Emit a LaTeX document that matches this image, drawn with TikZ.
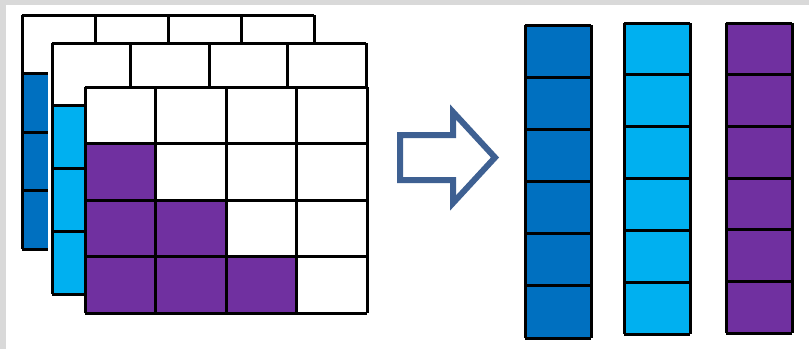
\documentclass[tikz,border=0pt]{standalone}
\definecolor{dblue}{RGB}{0,112,192}
\definecolor{lblue}{RGB}{0,176,240}
\definecolor{purp}{RGB}{112,48,160}
\definecolor{arrowc}{RGB}{62,96,146}
\definecolor{framec}{RGB}{217,217,217}
\newcommand\mygrid[6]{% x0,y0,cw,ch,ncols,nrows
  \foreach \i in {0,...,#5} \draw[gridline] ({#1+\i*#3},#2) -- ({#1+\i*#3},{#2+#6*#4});
  \foreach \j in {0,...,#6} \draw[gridline] (#1,{#2+\j*#4}) -- ({#1+#5*#3},{#2+\j*#4});
}
\begin{document}
\begin{tikzpicture}[x=1pt,y=-1pt,
  gridline/.style={draw=black,line width=3pt,line cap=square},
  bigarrow/.style={draw=arrowc,line width=6pt,line join=miter,fill=white}]
\useasboundingbox (0,0) rectangle (809,349);
\fill[white] (0,0) rectangle (809,349);
\fill[framec] (0,0) rectangle (809,5);
\fill[framec] (0,0) rectangle (6,349);
% back layer
\fill[white] (22,15) rectangle (314,249);
\fill[dblue] (22,73.5) rectangle (95,249);
\mygrid{22}{15}{73}{58.5}{4}{4}
% middle layer
\fill[white] (48,43) rectangle (366,294);
\fill[lblue] (52,105.75) rectangle (130.5,294);
\mygrid{52}{43}{78.5}{62.75}{4}{4}
% front layer
\fill[white] (85,87) rectangle (367,313);
\fill[purp] (85,143.5) rectangle (155.5,313);
\fill[purp] (155.5,200) rectangle (226,313);
\fill[purp] (226,256.5) rectangle (296.5,313);
\mygrid{85}{87}{70.5}{56.5}{4}{4}
% arrow
\draw[bigarrow] (400,135) -- (453,135) -- (453,112) -- (495,157.5) -- (453,203) -- (453,180) -- (400,180) -- cycle;
% result columns
\fill[dblue] (525,25) rectangle (591,338);
\mygrid{525}{25}{66}{52.1667}{1}{6}
\fill[lblue] (624,23) rectangle (690,334);
\mygrid{624}{23}{66}{51.8333}{1}{6}
\fill[purp] (726,23) rectangle (792,333);
\mygrid{726}{23}{66}{51.6667}{1}{6}
\end{tikzpicture}
\end{document}
